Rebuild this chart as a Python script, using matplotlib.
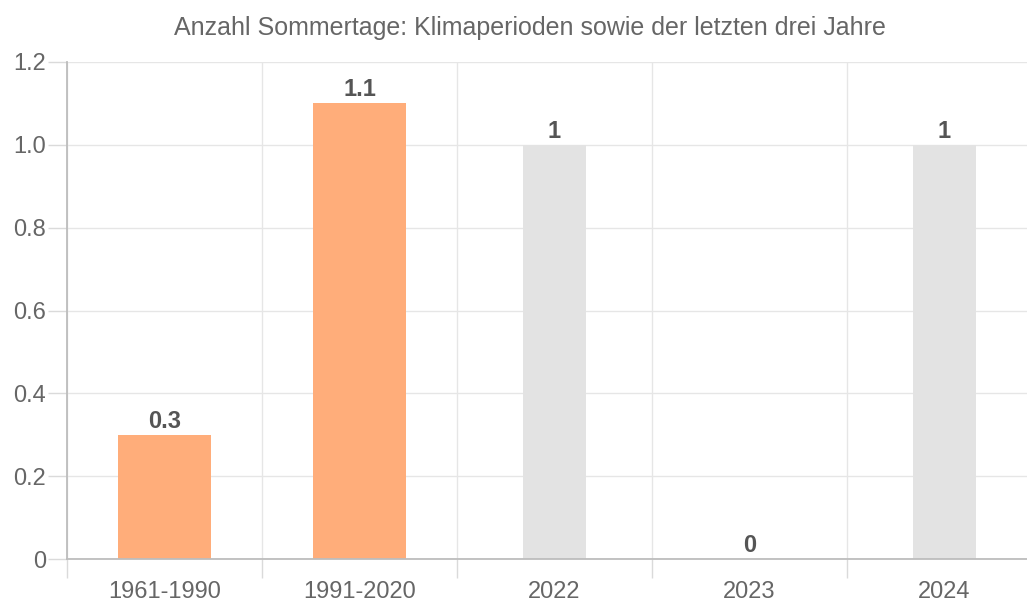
import matplotlib.pyplot as plt
import numpy as np

# Daten: Anzahl Sommertage
categories = ['1961-1990', '1991-2020', '2022', '2023', '2024']
values = [0.3, 1.1, 1, 0, 1]
value_labels = ['0.3', '1.1', '1', '0', '1']
is_period = [True, True, False, False, False]
y_ticks = [0, 0.2, 0.4, 0.6, 0.8, 1.0, 1.2]
y_tick_labels = ['0', '0.2', '0.4', '0.6', '0.8', '1.0', '1.2']

plt.rcParams['font.family'] = ['Liberation Sans', 'DejaVu Sans']

W, H = 1027, 606
fig = plt.figure(figsize=(W / 100, H / 100), dpi=100)
# Zeichenfläche reicht rechts über das Bild hinaus (wie im Original abgeschnitten)
left, right, bottom, top = 67, 1042, 559, 62
ax = fig.add_axes([left / W, 1 - bottom / H, (right - left) / W, (bottom - top) / H])

x = np.arange(len(categories))
colors = ['#ffad7a' if p else '#e3e3e3' for p in is_period]
widths = [0.48 if p else 0.32 for p in is_period]
ax.bar(x, values, width=widths, color=colors, zorder=2)

for xi, v, lab in zip(x, values, value_labels):
    ax.annotate(lab, (xi, v), xytext=(0, 1.5), textcoords='offset points',
                ha='center', va='bottom', fontsize=17, fontweight='bold',
                color='#555555', zorder=3)

ax.set_xlim(-0.5, len(categories) - 0.5)
ax.set_ylim(0, 1.2)

ax.set_yticks(y_ticks)
ax.set_yticklabels(y_tick_labels)
ax.set_xticks(x)
ax.set_xticklabels(categories)
ax.set_xticks(np.arange(len(categories) + 1) - 0.5, minor=True)

ax.tick_params(axis='y', length=14, width=1, color='#dadada', pad=1,
               labelsize=17, labelcolor='#666666')
ax.tick_params(axis='x', which='major', length=0, pad=16,
               labelsize=17, labelcolor='#666666')
ax.tick_params(axis='x', which='minor', length=14, width=1, color='#dadada')

ax.grid(axis='y', color='#e6e6e6', linewidth=1, zorder=0)
ax.grid(axis='x', which='minor', color='#e6e6e6', linewidth=1, zorder=0)
ax.set_axisbelow(True)

for side in ['top', 'right']:
    ax.spines[side].set_visible(False)
for side in ['left', 'bottom']:
    ax.spines[side].set_color('#bdbdbd')
    ax.spines[side].set_linewidth(1.3)
    ax.spines[side].set_zorder(3)

fig.text(530 / W, 1 - 28 / H, 'Anzahl Sommertage: Klimaperioden sowie der letzten drei Jahre',
         ha='center', va='center', fontsize=18, color='#666666')

fig.savefig('out.png', dpi=100)
